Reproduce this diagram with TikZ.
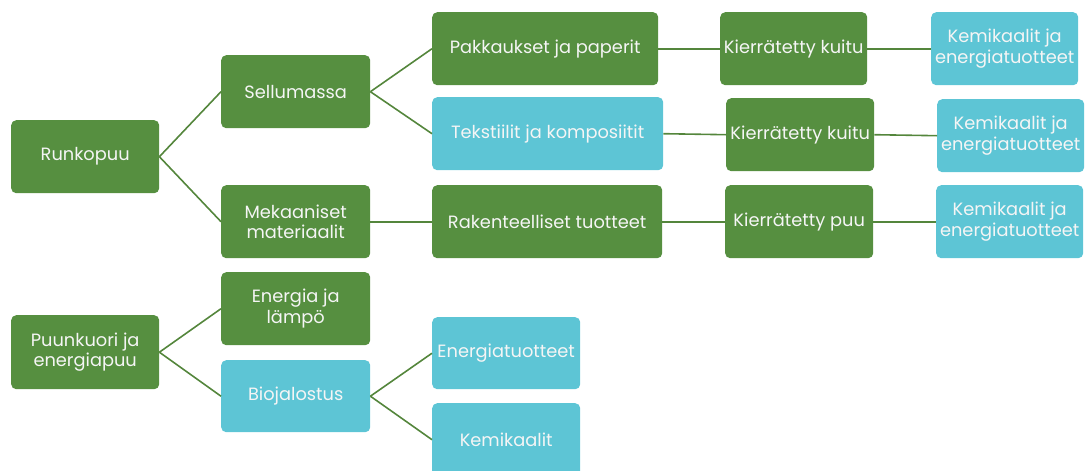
\documentclass[tikz,border=0pt]{standalone}
\usepackage{fontspec}
\setmainfont{Poppins}
\definecolor{leafgreen}{RGB}{86,143,64}
\definecolor{sky}{RGB}{93,197,213}
\definecolor{linkgreen}{RGB}{84,134,60}
\tikzset{
  box/.style={rounded corners=5pt, minimum height=73pt, align=center,
    text=white!96!black, inner sep=1pt, font=\fontsize{17.8}{20.5}\selectfont, anchor=north west},
  gbox/.style={box, fill=leafgreen},
  bbox/.style={box, fill=sky},
  link/.style={draw=linkgreen, line width=1.6pt}
}
\begin{document}
\begin{tikzpicture}[x=1pt,y=-1pt]
\useasboundingbox (0,0) rectangle (1090,471);
% first tree: trunk wood
\node[gbox, minimum width=148pt] (runko) at (11,120) {Runkopuu};
\node[gbox, minimum width=149pt] (sellu) at (221,55) {Sellumassa};
\node[gbox, minimum width=149pt] (mek) at (221,185) {Mekaaniset\\materiaalit};
\node[gbox, minimum width=226pt] (pakk) at (432,12) {Pakkaukset ja paperit};
\node[bbox, minimum width=231pt] (teks) at (432,97) {Tekstiilit ja komposiitit};
\node[gbox, minimum width=230pt] (rak) at (432,185) {Rakenteelliset tuotteet};
\node[gbox, minimum width=147pt] (kk1) at (720,12) {Kierrätetty kuitu};
\node[gbox, minimum width=148pt] (kk2) at (726,98) {Kierrätetty kuitu};
\node[gbox, minimum width=148pt] (kp) at (725,185) {Kierrätetty puu};
\node[bbox, minimum width=147pt] (kem1) at (931,12) {Kemikaalit ja\\energiatuotteet};
\node[bbox, minimum width=147pt] (kem2) at (937,99) {Kemikaalit ja\\energiatuotteet};
\node[bbox, minimum width=147pt] (kem3) at (936,185) {Kemikaalit ja\\energiatuotteet};
% second tree: bark and energy wood
\node[gbox, minimum width=148pt, minimum height=74pt] (kuori) at (11,315) {Puunkuori ja\\energiapuu};
\node[gbox, minimum width=149pt] (lampo) at (221,272) {Energia ja\\lämpö};
\node[bbox, minimum width=149pt, minimum height=72pt] (bio) at (221,360) {Biojalostus};
\node[bbox, minimum width=148pt, minimum height=72pt] (etuot) at (432,317) {Energiatuotteet};
\node[bbox, minimum width=148pt] (kemik) at (432,403) {Kemikaalit};
% connectors
\draw[link] (runko.east) -- (sellu.west);
\draw[link] (runko.east) -- (mek.west);
\draw[link] (sellu.east) -- (pakk.west);
\draw[link] (sellu.east) -- (teks.west);
\draw[link] (mek.east) -- (rak.west);
\draw[link] (pakk.east) -- (kk1.west);
\draw[link] (teks.east) -- (kk2.west);
\draw[link] (rak.east) -- (kp.west);
\draw[link] (kk1.east) -- (kem1.west);
\draw[link] (kk2.east) -- (kem2.west);
\draw[link] (kp.east) -- (kem3.west);
\draw[link] (kuori.east) -- (lampo.west);
\draw[link] (kuori.east) -- (bio.west);
\draw[link] (bio.east) -- (etuot.west);
\draw[link] (bio.east) -- (kemik.west);
\end{tikzpicture}
\end{document}
